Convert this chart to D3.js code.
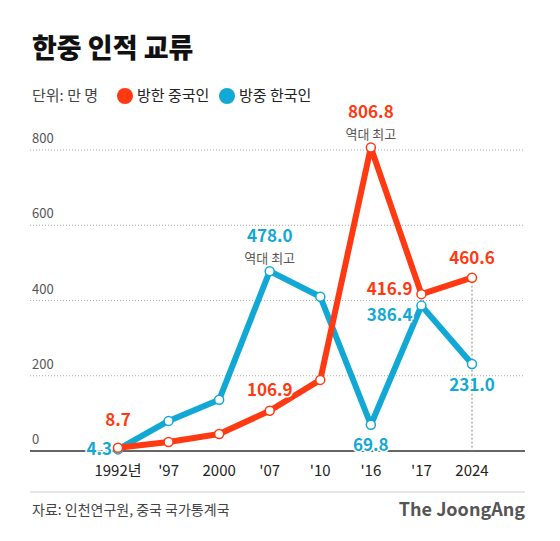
<!DOCTYPE html><html><head><meta charset="utf-8">
<script src="https://cdn.jsdelivr.net/npm/d3@7"></script>
<style>body{margin:0;background:#fff}text{font-family:"Noto Sans CJK KR","Noto Sans",sans-serif}</style></head><body>
<svg id="c" width="560" height="541"></svg>
<script>
const years=["1992년","'97","2000","'07","'10","'16","'17","2024"];
const chinaToKorea=[8.7,24,45,106.9,189,806.8,416.9,460.6];
const koreaToChina=[4.3,80,136,478.0,410,69.8,386.4,231.0];
const yTicks=[0,200,400,600,800];
const svg=d3.select("#c");
const x=d3.scalePoint().domain(years).range([118,472]);
const y=d3.scaleLinear().domain([0,800]).range([451,150]);
svg.append("text").attr("x",32).attr("y",58).attr("font-size",27).attr("font-weight",900).attr("fill","#111").text("한중 인적 교류");
svg.append("text").attr("x",32).attr("y",101).attr("font-size",15).attr("fill","#444").text("단위: 만 명");
const leg=[["방한 중국인","#ff3a12",125],["방중 한국인","#12a8d6",227]];
leg.forEach(l=>{svg.append("circle").attr("cx",l[2]).attr("cy",96).attr("r",8).attr("fill",l[1]);
svg.append("text").attr("x",l[2]+12).attr("y",101).attr("font-size",15).attr("fill","#222").text(l[0]);});
yTicks.forEach(t=>{ if(t>0){svg.append("line").attr("x1",30).attr("x2",525).attr("y1",y(t)).attr("y2",y(t)).attr("stroke","#aaa").attr("stroke-dasharray","1,2");}
svg.append("text").attr("x",32).attr("y",y(t)-7).attr("font-size",13).attr("fill","#555").text(t);});
svg.append("line").attr("x1",30).attr("x2",525).attr("y1",y(0)).attr("y2",y(0)).attr("stroke","#333").attr("stroke-width",1.5);
svg.append("line").attr("x1",x("2024")).attr("x2",x("2024")).attr("y1",y(460.6)).attr("y2",y(0)).attr("stroke","#888").attr("stroke-dasharray","2,2");
years.forEach(d=>svg.append("text").attr("x",x(d)).attr("y",476).attr("text-anchor","middle").attr("font-size",15).attr("fill","#222").text(d));
const line=d3.line().x((d,i)=>x(years[i])).y(d=>y(d));
[[koreaToChina,"#12a8d6"],[chinaToKorea,"#ff3a12"]].forEach(([s,c])=>{
svg.append("path").datum(s).attr("d",line).attr("fill","none").attr("stroke",c).attr("stroke-width",6).attr("stroke-linejoin","round");
s.forEach((v,i)=>svg.append("circle").attr("cx",x(years[i])).attr("cy",y(v)).attr("r",4.5).attr("fill","#fff").attr("stroke",c).attr("stroke-width",1.5));});
const R="#ff3a12",B="#12a8d6";
function lab(t,xx,yy,c,a){svg.append("text").attr("x",xx).attr("y",yy).attr("text-anchor",a||"middle").attr("font-size",17).attr("font-weight",700).attr("fill",c).attr("stroke","#fff").attr("stroke-width",3).attr("paint-order","stroke").text(t);}
lab("8.7",x(years[0]),y(8.7)-22,R);
lab("4.3",x(years[0])-6,y(4.3)+6,B,"end");
lab("106.9",x(years[3]),y(106.9)-15,R);
lab("478.0",x(years[3]),y(478)-29,B);
svg.append("text").attr("x",x(years[3])).attr("y",y(478)-8).attr("text-anchor","middle").attr("font-size",13).attr("fill","#555").text("역대 최고");
lab("806.8",x(years[5]),y(806.8)-29,R);
svg.append("text").attr("x",x(years[5])).attr("y",y(806.8)-8).attr("text-anchor","middle").attr("font-size",13).attr("fill","#555").text("역대 최고");
lab("69.8",x(years[5]),y(69.8)+26,B);
lab("416.9",x(years[6])-9,y(416.9)+1,R,"end");
lab("386.4",x(years[6])-9,y(386.4)+15,B,"end");
lab("460.6",x(years[7]),y(460.6)-14,R);
lab("231.0",x(years[7]),y(231)+27,B);
svg.append("line").attr("x1",30).attr("x2",525).attr("y1",492).attr("y2",492).attr("stroke","#ccc");
svg.append("text").attr("x",32).attr("y",515).attr("font-size",14).attr("fill","#444").text("자료: 인천연구원, 중국 국가통계국");
svg.append("text").attr("x",525).attr("y",516).attr("text-anchor","end").attr("font-size",18).attr("font-weight",700).attr("font-family","Liberation Serif,serif").attr("fill","#555").text("The JoongAng");
</script></body></html>
